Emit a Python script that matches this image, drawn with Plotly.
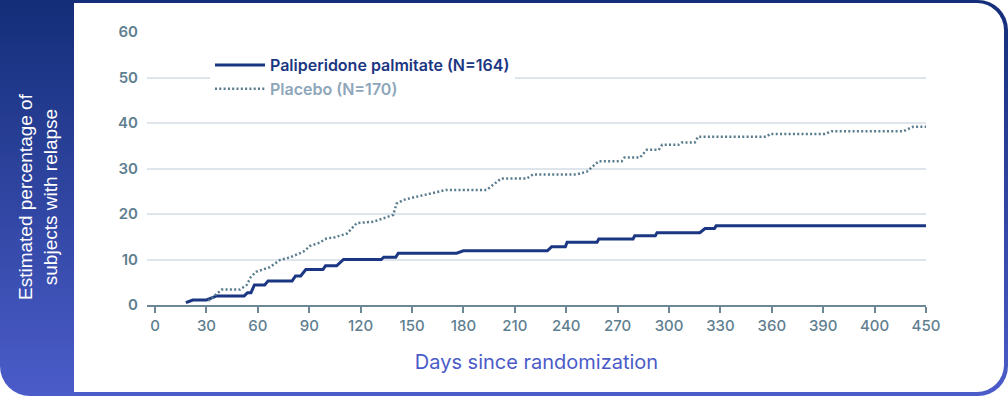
import base64
import plotly.graph_objects as go

# ---- data ----
pali_days = [18, 22, 30, 36, 52, 54, 56, 58, 64, 66, 80, 82, 85, 88, 98, 99.5, 106, 110,
             132, 133.5, 140.5, 142, 176, 180, 229, 231.5, 239.5, 240.5, 258, 259, 279, 280,
             292, 293, 318, 321, 326.5, 327.5, 450]
pali_pct = [0.5, 1.1, 1.1, 2.0, 2.0, 2.7, 2.7, 4.4, 4.4, 5.3, 5.3, 6.4, 6.4, 7.8, 7.8, 8.6, 8.6, 10.0,
            10.0, 10.5, 10.5, 11.4, 11.4, 11.9, 11.9, 12.8, 12.8, 13.8, 13.8, 14.5, 14.5, 15.2,
            15.2, 15.9, 15.9, 16.8, 16.8, 17.4, 17.4]

plac_days = [31, 35, 39, 49.5, 53.5, 56, 59, 67, 73, 79, 86.5, 90.5, 96, 100, 105, 112, 117.7,
             127.4, 139, 141, 145, 152.7, 166, 170, 193.6, 202, 217, 220.6, 246, 252, 259, 272.4,
             274, 283, 287, 294, 296, 305.5, 307.4, 315, 317, 357, 359, 391, 395, 436.8, 442.6, 450]
plac_pct = [0.9, 2.2, 3.4, 3.4, 4.4, 6.2, 7.3, 8.3, 9.9, 10.5, 11.7, 13.0, 13.7, 14.6, 14.9, 15.7, 18.0,
            18.3, 19.8, 22.3, 23.1, 23.8, 24.9, 25.3, 25.3, 27.8, 27.8, 28.7, 28.7, 29.3, 31.6, 31.6,
            32.4, 32.4, 34.1, 34.1, 35.2, 35.2, 35.7, 35.7, 37.0, 37.0, 37.6, 37.6, 38.2, 38.2, 39.2, 39.2]

x_tickvals = [0, 30, 60, 90, 120, 150, 180, 210, 240, 270, 300, 330, 360, 390, 420, 450]
x_ticktext = ["0", "30", "60", "90", "120", "150", "180", "210", "240", "270", "300", "330",
              "360", "390", "400", "450"]
y_tickvals = [0, 10, 20, 30, 40, 50, 60]

pali_name = "Paliperidone palmitate (N=164)"
plac_name = "Placebo (N=170)"
x_title = "Days since randomization"
y_title = "Estimated percentage of<br>subjects with relapse"

# ---- geometry ----
W, H = 1008, 396
L, R, T, B = 147, 82, 32, 91
PW, PH = W - L - R, H - T - B

NAVY = "#1b3682"
SLATE = "#587b8e"
TICK = "#5f7f91"
BLUE = "#4a5bc8"

svg = f"""<svg xmlns='http://www.w3.org/2000/svg' width='{W}' height='{H}' viewBox='0 0 {W} {H}'>
<defs><linearGradient id='g' x1='0' y1='0' x2='0' y2='1'>
<stop offset='0' stop-color='#142e79'/><stop offset='1' stop-color='#4b5cc9'/></linearGradient></defs>
<path d='M0,0 H978 A30,30 0 0 1 1008,30 V366 A30,30 0 0 1 978,396 H30 A30,30 0 0 1 0,366 Z' fill='url(#g)'/>
<path d='M74,3 H977 A27,27 0 0 1 1004,30 V365 A27,27 0 0 1 977,392 H74 Z' fill='white'/>
</svg>"""
src = "data:image/svg+xml;base64," + base64.b64encode(svg.encode()).decode()

fig = go.Figure()
fig.add_trace(go.Scatter(
    x=pali_days, y=pali_pct, mode="lines",
    name=f"<span style='color:{NAVY}'>{pali_name}</span>",
    line=dict(color=NAVY, width=3),
))
fig.add_trace(go.Scatter(
    x=plac_days, y=plac_pct, mode="lines",
    name=f"<span style='color:#8ea6ba'>{plac_name}</span>",
    line=dict(color=SLATE, width=2.5, dash="2px,2.3px"),
))

fig.update_layout(
    width=W, height=H,
    margin=dict(l=L, r=R, t=T, b=B, pad=0),
    paper_bgcolor="white",
    plot_bgcolor="rgba(0,0,0,0)",
    font=dict(family="Inter, Roboto, sans-serif", size=15, color=TICK),
    showlegend=True,
    legend=dict(
        x=(210 - L) / PW, y=(H - B - 48) / PH, xanchor="left", yanchor="top",
        bgcolor="white", borderwidth=0,
        font=dict(family="Inter, sans-serif", size=16, weight=600),
        itemwidth=50, tracegroupgap=0,
    ),
    images=[dict(
        source=src, xref="paper", yref="paper",
        x=-L / PW, y=1 + T / PH, sizex=W / PW, sizey=H / PH,
        xanchor="left", yanchor="top", sizing="stretch", layer="below",
    )],
    annotations=[dict(
        text=y_title, xref="paper", yref="paper",
        x=(37.5 - L) / PW, y=(H - B - 196.5) / PH, xanchor="center", yanchor="middle",
        textangle=-90, showarrow=False,
        font=dict(family="Liberation Sans, Arial, sans-serif", size=19, color="white"),
    )],
)

fig.update_xaxes(
    range=[-4.7, 450],
    tickvals=x_tickvals, ticktext=x_ticktext,
    ticks="outside", ticklen=6, tickwidth=1.5, tickcolor="#6d8797",
    showline=True, linecolor="#6d8797", linewidth=2,
    showgrid=False, zeroline=False,
    tickfont=dict(size=15, color=TICK, weight=500),
    title=dict(text=x_title, font=dict(size=20, color=BLUE), standoff=21),
)
fig.update_yaxes(
    range=[0, 60], tickvals=y_tickvals,
    showgrid=True, gridcolor="#dfe5ec", gridwidth=1.5,
    showline=False, zeroline=False, ticks="",
    ticklabelstandoff=8,
    tickfont=dict(size=15, color=TICK, weight=600),
)

fig.write_html("out.html", config={"displayModeBar": False},
               post_script="document.body.style.margin='0';document.body.style.overflow='hidden';")
